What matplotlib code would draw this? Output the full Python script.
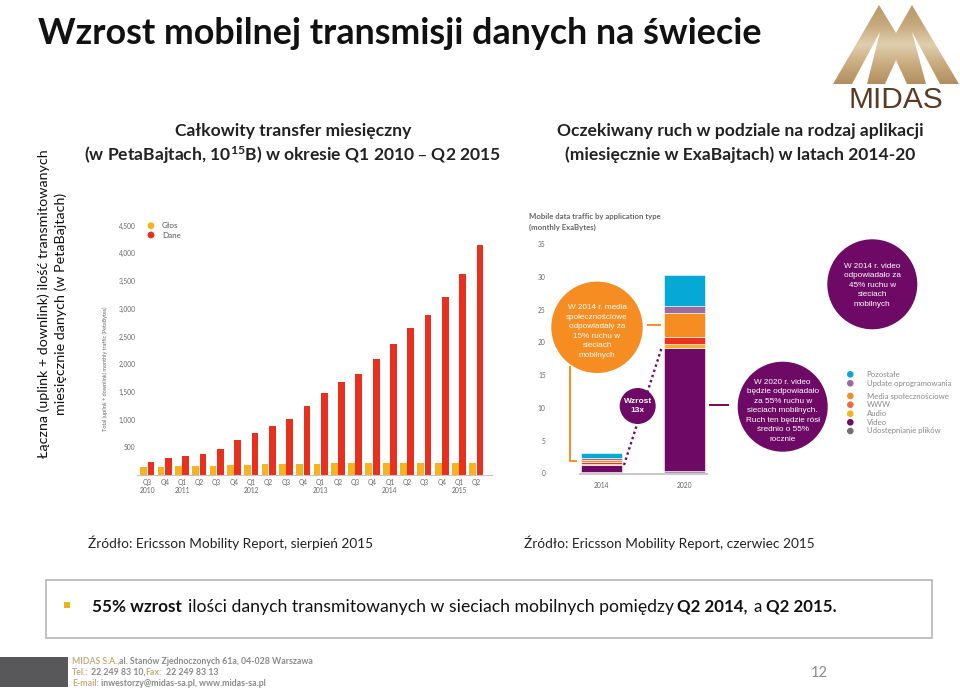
import numpy as np
import matplotlib
matplotlib.use('Agg')
import matplotlib.pyplot as plt
from matplotlib.colors import LinearSegmentedColormap
from matplotlib.patches import Circle, Polygon, Rectangle

W, H = 960, 690

# left chart, PetaBytes per quarter
quarters = ['Q3\n2010', 'Q4', 'Q1\n2011', 'Q2', 'Q3', 'Q4', 'Q1\n2012', 'Q2', 'Q3', 'Q4',
            'Q1\n2013', 'Q2', 'Q3', 'Q4', 'Q1\n2014', 'Q2', 'Q3', 'Q4', 'Q1\n2015', 'Q2']
voice = [150, 150, 165, 165, 165, 180, 180, 195, 195, 195,
         195, 210, 210, 210, 210, 222, 222, 222, 222, 222]
data = [240, 312, 349, 373, 463, 632, 752, 890, 1017, 1251,
        1475, 1684, 1823, 2088, 2365, 2659, 2894, 3219, 3622, 4146]
peta_ticks = [500, 1000, 1500, 2000, 2500, 3000, 3500, 4000, 4500]

# right chart, ExaBytes per application type
years = ['2014', '2020']
app_names = ['Udostępnianie plików', 'Video', 'Audio', 'WWW',
             'Media społecznościowe', 'Update oprogramowania', 'Pozostałe']
app_values = {
    'Udostępnianie plików': [0.15, 0.4],
    'Video': [1.15, 18.8],
    'Audio': [0.1, 0.5],
    'WWW': [0.4, 1.1],
    'Media społecznościowe': [0.3, 3.6],
    'Update oprogramowania': [0.3, 1.1],
    'Pozostałe': [0.75, 4.8],
}
app_colors = ['#a79aa6', '#6e0a66', '#f7b21f', '#ea3323', '#f68d22', '#9a6a9c', '#06a9d6']
legend_colors = ['#6f7174', '#6e0a66', '#f7b21f', '#ea6a45', '#f68d22', '#9a6a9c', '#06a9d6']
exa_ticks = [0, 5, 10, 15, 20, 25, 30, 35]

plt.rcParams['font.family'] = ['Lato', 'DejaVu Sans']
plt.rcParams['mathtext.default'] = 'regular'
fig = plt.figure(figsize=(W / 100, H / 100), dpi=100)


def px_axes(x0, y0, x1, y1):
    # axes placed by pixel box, y counted from the top of the picture
    return fig.add_axes([x0 / W, 1 - y1 / H, (x1 - x0) / W, (y1 - y0) / H])


# overlay for slide furniture
bg = fig.add_axes([0, 0, 1, 1])
bg.set_xlim(0, W)
bg.set_ylim(H, 0)
bg.axis('off')

bg.text(38, 34, 'Wzrost mobilnej transmisji danych na świecie', fontsize=25.8, fontweight='bold',
        va='center', color='#111111')
bg.text(52.5, 304, 'Łączna (uplink + downlink) ilość transmitowanych\nmiesięcznie danych (w PetaBajtach)',
        rotation=90, fontsize=10.3, ha='center', va='center', linespacing=1.45, color='#111111')
bg.text(293, 131, 'Całkowity transfer miesięczny', fontsize=12.6, fontweight='bold', ha='center', va='center',
        color='#222222')
bg.text(293, 155, '(w PetaBajtach, 10$^{15}$B) w okresie Q1 2010 – Q2 2015', fontsize=12.6, fontweight='bold',
        ha='center', va='center', color='#222222')
bg.text(740, 131, 'Oczekiwany ruch w podziale na rodzaj aplikacji', fontsize=12.6, fontweight='bold',
        ha='center', va='center', color='#222222')
bg.text(740, 155, '(miesięcznie w ExaBajtach) w latach 2014-20', fontsize=12.6, fontweight='bold',
        ha='center', va='center', color='#222222')
bg.text(88, 543, 'Źródło: Ericsson Mobility Report, sierpień 2015', fontsize=9.8, va='center', color='#222222')
bg.text(524, 543, 'Źródło: Ericsson Mobility Report, czerwiec 2015', fontsize=9.8, va='center', color='#222222')

# highlighted box
bg.add_patch(Rectangle((46, 580), 886, 58, fc='white', ec='#b5b5b5', lw=1.2))
bg.add_patch(Rectangle((64, 602), 6, 6, fc='#e8b31e', ec='none'))
bg.text(92, 607, '55% wzrost', fontsize=12.3, fontweight='bold', va='center', color='#111111')
bg.text(187.5, 607, 'ilości danych transmitowanych w sieciach mobilnych pomiędzy', fontsize=12.7, va='center',
        color='#111111')
bg.text(677, 607, 'Q2 2014,', fontsize=12.2, fontweight='bold', va='center', color='#111111')
bg.text(753, 607, 'a', fontsize=12.2, va='center', color='#111111')
bg.text(766, 607, 'Q2 2015.', fontsize=12.2, fontweight='bold', va='center', color='#111111')

# footer
bg.add_patch(Rectangle((0, 657), 68, 30, fc='#58585a', ec='none'))
gold = '#c2ad7e'
grey = '#8a8a8a'
bg.text(72, 661, 'MIDAS S.A.,', fontsize=6.2, fontweight='bold', color=gold, va='center')
bg.text(119, 661, 'al. Stanów Zjednoczonych 61a, 04-028 Warszawa', fontsize=6.3, fontweight='bold', color=grey, va='center')
bg.text(72, 672.5, 'Tel.:', fontsize=6.3, fontweight='bold', color=gold, va='center')
bg.text(91, 672.5, '22 249 83 10,', fontsize=6.3, fontweight='bold', color=grey, va='center')
bg.text(145, 672.5, 'Fax:', fontsize=6.3, fontweight='bold', color=gold, va='center')
bg.text(166, 672.5, '22 249 83 13', fontsize=6.3, fontweight='bold', color=grey, va='center')
bg.text(72, 684, 'E-mail:', fontsize=6.3, fontweight='bold', color=gold, va='center')
bg.text(101, 684, 'inwestorzy@midas-sa.pl, www.midas-sa.pl', fontsize=6.3, fontweight='bold', color=grey, va='center')
bg.text(819, 673, '12', fontsize=10.5, color='#8a8a8a', ha='center', va='center')

# logo: gold M with a vertical sheen, the feet cut out in white
sheen = LinearSegmentedColormap.from_list('sheen', ['#b89a6c', '#c6a97c', '#e0cfae', '#c9ab7e', '#b28f60'])
grad = np.linspace(0, 1, 64).reshape(-1, 1)
im = bg.imshow(grad, cmap=sheen, extent=(833, 960, 84, 5), aspect='auto', zorder=1)
im.set_clip_path(Polygon([(833, 84), (879, 5), (896, 33), (912, 5), (959, 84)], transform=bg.transData))
bg.set_xlim(0, W)
bg.set_ylim(H, 0)
for tri in ([(880, 32), (852, 84), (867, 84)], [(896, 60), (885, 84), (907, 84)], [(912, 32), (926, 84), (940, 84)]):
    bg.add_patch(Polygon(tri, fc='white', ec='none', zorder=2))
bg.text(895.5, 100, 'MIDAS', fontsize=21.5, family='Liberation Sans', color='#5a3a22', ha='center', va='center')

# left chart
ax1 = px_axes(137, 209, 492, 475)
x = list(range(len(quarters)))
ax1.bar([i - 0.21 for i in x], voice, width=0.39, color='#f7b21f')
ax1.bar([i + 0.21 for i in x], data, width=0.39, color='#e9301f')
ax1.set_xlim(-0.6, 19.9)
ax1.set_ylim(0, 4800)
ax1.set_xticks(x, quarters)
ax1.set_yticks(peta_ticks, [f'{t:,}' for t in peta_ticks])
ax1.tick_params(length=0, labelsize=4.8, labelcolor='#666666', pad=1)
ax1.tick_params(axis='x', pad=3)
for s in ['top', 'right', 'left']:
    ax1.spines[s].set_visible(False)
ax1.spines['bottom'].set_color('#c4c4c4')
ax1.patch.set_alpha(0)
bg.text(105, 369, 'Total (uplink + downlink) monthly traffic (PetaBytes)', rotation=90, fontsize=4,
        color='#666666', ha='center', va='center')
bg.add_patch(Circle((151, 225.7), 3.4, fc='#f7b21f', ec='none'))
bg.add_patch(Circle((151, 235), 3.4, fc='#e9301f', ec='none'))
bg.text(162, 226, 'Głos', fontsize=5.8, color='#555555', va='center')
bg.text(162, 235.5, 'Dane', fontsize=5.8, color='#555555', va='center')

# right chart
ax2 = px_axes(566.5, 244, 712.5, 473.3)
bottom = [0, 0]
for name, col in zip(app_names, app_colors):
    vals = app_values[name]
    ax2.bar(years, vals, bottom=bottom, width=0.5, color=col, edgecolor='white', linewidth=0.4)
    bottom = [b + v for b, v in zip(bottom, vals)]
ax2.set_xlim(-0.42, 1.34)
ax2.set_ylim(0, 35)
ax2.set_yticks(exa_ticks)
ax2.tick_params(length=0, labelsize=4.8, labelcolor='#666666')
ax2.tick_params(axis='y', pad=15)
ax2.tick_params(axis='x', pad=6)
for s in ['top', 'right', 'left', 'bottom']:
    ax2.spines[s].set_visible(False)
ax2.patch.set_alpha(0)
bg.plot([580, 707], [473.8, 473.8], color='#c8c6c8', lw=1.4, zorder=1)
bg.text(529, 216, 'Mobile data traffic by application type', fontsize=5.6, fontweight='bold', color='#666666', va='center')
bg.text(529, 227, '(monthly ExaBytes)', fontsize=5.6, fontweight='bold', color='#666666', va='center')

# overlay above the charts for bubbles and connectors
top = fig.add_axes([0, 0, 1, 1], zorder=5)
top.set_xlim(0, W)
top.set_ylim(H, 0)
top.axis('off')

orange = '#f68d22'
purple = '#6e0a66'
top.plot([570, 570, 576], [367, 460.5, 460.5], color=orange, lw=1.4)
top.plot([648, 660], [325, 325], color=orange, lw=1.4)
top.plot([710, 728], [405.3, 405.3], color=purple, lw=1.4)
top.plot([624, 662], [465, 346.7], color=purple, lw=1.7, linestyle=(0, (1, 1.3)))


def bubble(cx, cy, r, col, text, size, dy=0, bold=False):
    top.add_patch(Circle((cx, cy), r, fc=col, ec='none'))
    top.text(cx, cy + dy, text, color='white', fontsize=size, family='Liberation Sans', ha='center', va='center',
             fontweight='bold' if bold else 'normal', linespacing=1.5)


bubble(597, 327.3, 45.7, orange, 'W 2014 r. media\nspołecznościowe\nodpowiadały za\n15% ruchu w\nsieciach\nmobilnych', 5.9, dy=4)
bubble(637.7, 406, 18, purple, 'Wzrost\n13x', 6, bold=True)
bubble(782.7, 406.7, 45, purple, 'W 2020 r. video\nbędzie odpowiadało\nza 55% ruchu w\nsieciach mobilnych.\nRuch ten będzie rósł\nśrednio o 55%\nrocznie', 5.85, dy=4)
bubble(872.3, 284.3, 45, purple, 'W 2014 r. video\nodpowiadało za\n45% ruchu w\nsieciach\nmobilnych', 5.9, dy=1)

legend_y = [431, 422.3, 413.7, 404.7, 396, 383.3, 374.3]
for name, col, yy in zip(app_names, legend_colors, legend_y):
    top.add_patch(Circle((850.3, yy), 3.3, fc=col, ec='none'))
    top.text(866.7, yy, name, fontsize=5.6, color='#888888', va='center')

fig.savefig('out.png', dpi=100)
